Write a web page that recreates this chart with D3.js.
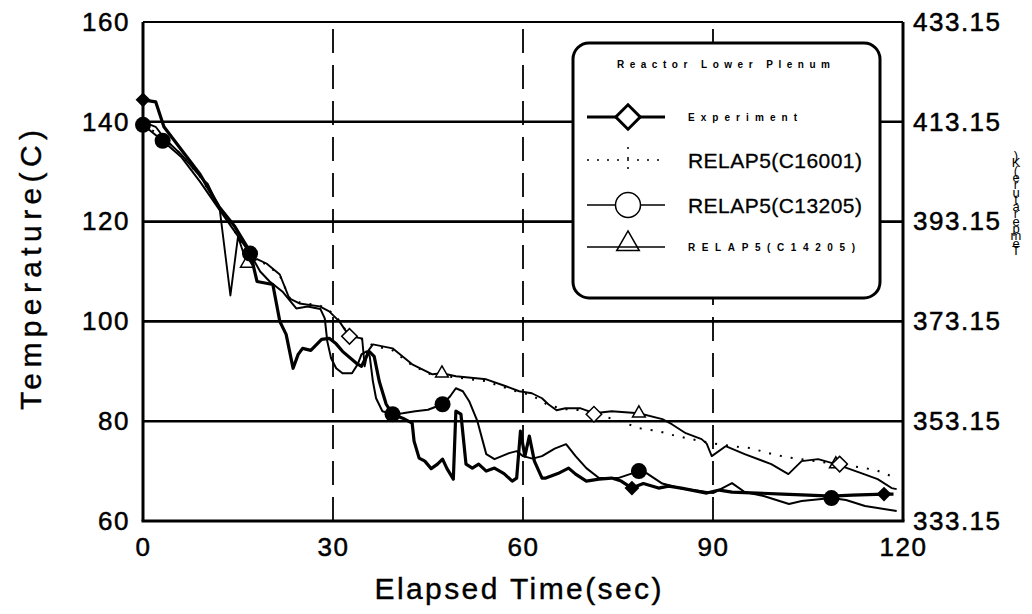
<!DOCTYPE html>
<html>
<head>
  <style>
    body { margin: 0; background: white; }
    svg { display: block; font-family: "Liberation Sans", Arial, sans-serif; }
  </style>
</head>
<body>
  <div id="chart"></div>
  <script src="https://cdnjs.cloudflare.com/ajax/libs/d3/7.8.5/d3.min.js"></script>
  <script>
    // time (sec), temperature (C)
    const experiment = [
      [0,144.4],[2,144],[3.3,139],[6,134.5],[9,129.5],[12,123],[14.5,119],[16.9,114],[18,108],
      [20.5,107.4],[21.6,100],[22.6,97.4],[23.7,90.6],[24.5,93.4],[25.2,94.6],[26.5,94.2],[28.2,96.4],
      [29.4,96.6],[30.5,95.5],[31.5,94],[33.7,91.6],[34.5,91],[35.7,94],[36.5,93],[37.3,88],[38.4,83.4],
      [39.4,81.4],[41,80.6],[42.5,79.6],[42.8,76],[43.6,72.6],[44.5,72],[45.5,70.5],[46.5,71.4],
      [47.3,72.4],[48,70.5],[49,68.4],[49.4,82],[50.2,81.4],[51,71.4],[52,70.6],[53,71.4],[54.2,70],
      [55.5,70.6],[57,69.5],[58.3,68],[59,68.6],[59.6,78],[60.3,73],[61,77],[61.8,72],[63,68.6],
      [63.6,68.6],[65.5,69.5],[67.2,70.6],[68.3,69.4],[70,68],[72,68.4],[74,68.6],[75.5,68],[77.2,66.6],
      [79,67.5],[81.4,66.6],[83,67],[85,66.6],[89,65.6],[91,66.2],[93,65.8],[97,65.6],[101,65.4],
      [105,65.2],[108.7,65],[112,65.2],[117,65.4],[118.5,65.4]
    ];
    const c16001 = [
      [0,139.5],[3,137],[6,133.5],[9,129],[12,123],[15,117],[16.9,113],[19.5,111.4],[21.6,109.2],
      [23.1,104.8],[24.7,103.8],[27.9,103.2],[29.4,102.2],[31,100.2],[32.6,97],[34.6,96.4],[36.3,95.2],
      [39.4,94.2],[42.5,91.2],[45.7,89.2],[49.4,88.8],[54.2,88],[56,87.2],[59.4,85.8],[61.4,85.2],
      [64,83.2],[66.7,82.4],[69,82.2],[71.2,81.4],[75,80.2],[78.3,78.6],[81.4,78],[84.3,77],[89.8,75.6],
      [93,75],[96,74.6],[98.7,73.6],[101.6,72.8],[106,72],[110,71.4],[113,70.8],[115.7,70.2],[119,68.6]
    ];
    const c13205 = [
      [0,139.4],[3.1,136.2],[6,133],[9,128],[12,122.5],[14.5,118],[16.9,113.6],[18.5,110],[20,108],
      [22,106],[24.2,102.6],[26,103],[28,102.5],[28.7,100.6],[29.1,96],[29.7,92.6],[30.5,90.6],
      [31.5,89.6],[33,89.6],[33.9,91.4],[34.5,93.4],[35.3,94],[35.8,93],[36.3,88],[36.8,84.6],
      [37.8,82],[39.4,81.4],[41,81.6],[43,82],[45,82.3],[47.3,83.4],[48.5,85],[49.4,86.6],[50.5,86],
      [51.5,84],[52.8,80],[54.2,73.4],[55.5,72.4],[57.8,73.6],[59,74],[60,73],[61.5,72.5],[63,73],
      [65,74.5],[66.8,75.4],[68.3,73],[70,70.6],[72,68.6],[75,68.6],[78.3,70],[79.5,69.6],[82,67.5],
      [85,66.5],[88,66],[90,65.6],[93,67.6],[95,65.8],[98,65],[102,63.4],[104,64],[108.7,64.6],
      [111,64.2],[114,63],[116,62.6],[119,62]
    ];
    const c14205 = [
      [0,140],[2,139],[3.5,136.5],[6,133.5],[9.3,128.6],[10.2,127.6],[12.1,122.6],[13.8,105.2],
      [15,117],[16.4,111.6],[18,112.5],[19.5,111.6],[21.6,109.4],[23.1,104.6],[24.7,103.6],[27.9,103],
      [29.4,102],[31,100],[32.6,97],[34.6,96.6],[35,91],[35.5,94],[36.3,95.4],[39.4,94.6],[42.5,91.4],
      [45.7,89.4],[47.2,89.6],[49.4,89],[54.2,88.4],[57.3,87],[59.4,86],[61.4,85.6],[63,84.6],
      [64,83.4],[65.3,82.2],[66.7,82.6],[69,82.6],[71.2,81.6],[74,82],[78.3,81.6],[82,80.4],[83.5,79.4],
      [85.7,77.6],[88.2,76.4],[89,75.5],[89.8,73],[92,75],[95,73.4],[99.2,71.4],[101.9,69.4],[104,72],
      [106.6,72.4],[109.4,71.4],[113.4,69.6],[116,68.4],[118.2,66.6],[119,66.4]
    ];

    // times at which the symbols sit on each curve
    const markExperiment = [0, 77.2, 117];
    const markC16001 = [32.6, 71.2, 110];
    const markC13205 = [0, 3.1, 16.9, 39.4, 47.3, 78.3, 108.7];
    const markC14205 = [16.4, 47.2, 78.3, 109.4];

    const xTicks = [0, 30, 60, 90, 120];
    const yTicks = [60, 80, 100, 120, 140, 160];
    const kTicks = [333.15, 353.15, 373.15, 393.15, 413.15, 433.15];
    const legendTitle = "Reactor Lower Plenum";
    const legendLabels = ["Experiment", "RELAP5(C16001)", "RELAP5(C13205)", "RELAP5(C14205)"];

    const width = 1032, height = 614;
    const pLeft = 143, pRight = 903, pTop = 22, pBottom = 521;

    const svg = d3.select("#chart").append("svg")
      .attr("width", width)
      .attr("height", height);

    const x = d3.scaleLinear().domain([0, 120]).range([pLeft, pRight]);
    const y = d3.scaleLinear().domain([60, 160]).range([pBottom, pTop]);
    const yK = d3.scaleLinear().domain([333.15, 433.15]).range([pBottom, pTop]);

    // horizontal grid
    svg.append("g").selectAll("line")
      .data(yTicks.slice(1, -1))
      .join("line")
      .attr("x1", pLeft).attr("x2", pRight)
      .attr("y1", d => y(d)).attr("y2", d => y(d))
      .attr("stroke", "#000").attr("stroke-width", 2.6);

    // vertical dashed grid, drawn from the bottom up
    svg.append("g").selectAll("line")
      .data(xTicks.slice(1, -1))
      .join("line")
      .attr("x1", d => x(d)).attr("x2", d => x(d))
      .attr("y1", pBottom).attr("y2", pTop)
      .attr("stroke", "#000").attr("stroke-width", 1.8)
      .attr("stroke-dasharray", "24,12");

    // frame
    svg.append("line").attr("x1", pLeft).attr("x2", pRight).attr("y1", pTop).attr("y2", pTop)
      .attr("stroke", "#000").attr("stroke-width", 2);
    svg.append("line").attr("x1", pLeft - 1.5).attr("x2", pRight + 1.5).attr("y1", pBottom).attr("y2", pBottom)
      .attr("stroke", "#000").attr("stroke-width", 3);
    svg.append("line").attr("x1", pLeft).attr("x2", pLeft).attr("y1", pTop).attr("y2", pBottom)
      .attr("stroke", "#000").attr("stroke-width", 3);
    svg.append("line").attr("x1", pRight).attr("x2", pRight).attr("y1", pTop).attr("y2", pBottom)
      .attr("stroke", "#000").attr("stroke-width", 3);

    // axes (labels only)
    function styleAxis(g) {
      g.select(".domain").remove();
      g.selectAll("text")
        .attr("font-family", "\"Liberation Sans\", Arial, sans-serif")
        .attr("font-size", 26)
        .attr("letter-spacing", 1.5)
        .attr("fill", "#000")
        .attr("stroke", "#000").attr("stroke-width", 0.5);
    }
    svg.append("g").attr("transform", `translate(${pLeft},0)`)
      .call(d3.axisLeft(y).tickValues(yTicks).tickSize(0).tickPadding(13))
      .call(styleAxis);
    svg.append("g").attr("transform", `translate(${pRight},0)`)
      .call(d3.axisRight(yK).tickValues(kTicks).tickFormat(d3.format(".2f")).tickSize(0).tickPadding(10))
      .call(styleAxis);
    svg.append("g").attr("transform", `translate(0,${pBottom})`)
      .call(d3.axisBottom(x).tickValues(xTicks).tickSize(0).tickPadding(17))
      .call(styleAxis);

    svg.append("text")
      .attr("x", (pLeft + pRight) / 2 - 5).attr("y", 599)
      .attr("text-anchor", "middle")
      .attr("font-size", 30)
      .attr("stroke", "#000").attr("stroke-width", 0.4)
      .attr("textLength", 287).attr("lengthAdjust", "spacing")
      .text("Elapsed Time(sec)");

    svg.append("text")
      .attr("transform", "translate(41,270) rotate(-90)")
      .attr("text-anchor", "middle")
      .attr("font-size", 30)
      .attr("stroke", "#000").attr("stroke-width", 0.4)
      .attr("textLength", 280).attr("lengthAdjust", "spacing")
      .text("Temperature(C)");

    // right-hand title, characters stacked upright and reversed as in the scan
    svg.append("text")
      .attr("x", 1016).attr("y", 148)
      .style("writing-mode", "vertical-rl")
      .style("text-orientation", "upright")
      .attr("font-size", 13)
      .attr("textLength", 110).attr("lengthAdjust", "spacing")
      .text(Array.from("Temperature(K)").reverse().join(""));

    // curves
    const line = d3.line().x(d => x(d[0])).y(d => y(d[1]));
    const plot = svg.append("g");

    plot.append("path").datum(c16001).attr("d", line)
      .attr("fill", "none").attr("stroke", "#000").attr("stroke-width", 2)
      .attr("stroke-dasharray", "2,9");
    plot.append("path").datum(c14205).attr("d", line)
      .attr("fill", "none").attr("stroke", "#000").attr("stroke-width", 1.9)
      .attr("stroke-linejoin", "round");
    plot.append("path").datum(c13205).attr("d", line)
      .attr("fill", "none").attr("stroke", "#000").attr("stroke-width", 2)
      .attr("stroke-linejoin", "round");
    plot.append("path").datum(experiment).attr("d", line)
      .attr("fill", "none").attr("stroke", "#000").attr("stroke-width", 3.2)
      .attr("stroke-linejoin", "round");

    const pick = (series, times) => times.map(t => series.find(p => p[0] === t));

    plot.append("g").selectAll("path")
      .data(pick(c14205, markC14205))
      .join("path")
      .attr("transform", d => `translate(${x(d[0])},${y(d[1])})`)
      .attr("d", d3.symbol().type(d3.symbolTriangle).size(70))
      .attr("fill", "#fff").attr("stroke", "#000").attr("stroke-width", 1.5);

    plot.append("g").selectAll("path")
      .data(pick(c16001, markC16001))
      .join("path")
      .attr("transform", d => `translate(${x(d[0])},${y(d[1])}) rotate(45)`)
      .attr("d", d3.symbol().type(d3.symbolSquare).size(120))
      .attr("fill", "#fff").attr("stroke", "#000").attr("stroke-width", 1.5);

    plot.append("g").selectAll("circle")
      .data(pick(c13205, markC13205))
      .join("circle")
      .attr("cx", d => x(d[0])).attr("cy", d => y(d[1]))
      .attr("r", 8).attr("fill", "#000");

    plot.append("g").selectAll("path")
      .data(pick(experiment, markExperiment))
      .join("path")
      .attr("transform", d => `translate(${x(d[0])},${y(d[1])}) rotate(45)`)
      .attr("d", d3.symbol().type(d3.symbolSquare).size(110))
      .attr("fill", "#000");

    // legend
    const lg = svg.append("g");
    lg.append("rect")
      .attr("x", 573).attr("y", 43).attr("width", 307).attr("height", 255)
      .attr("rx", 16)
      .attr("fill", "#fff").attr("stroke", "#000").attr("stroke-width", 3);
    lg.append("text")
      .attr("x", 617).attr("y", 68)
      .attr("font-size", 10).attr("font-weight", "bold")
      .attr("textLength", 213).attr("lengthAdjust", "spacing")
      .text(legendTitle);

    const rowY = [117, 160, 205, 247];
    const sx1 = 587, sx2 = 665, sc = 628, tx = 688;

    // Experiment
    lg.append("line").attr("x1", sx1).attr("x2", sx2).attr("y1", rowY[0]).attr("y2", rowY[0])
      .attr("stroke", "#000").attr("stroke-width", 3);
    lg.append("path").attr("transform", `translate(${sc},${rowY[0]}) rotate(45)`)
      .attr("d", d3.symbol().type(d3.symbolSquare).size(300))
      .attr("fill", "#fff").attr("stroke", "#000").attr("stroke-width", 3);
    // C16001
    lg.append("line").attr("x1", sx1).attr("x2", sx2).attr("y1", rowY[1]).attr("y2", rowY[1])
      .attr("stroke", "#000").attr("stroke-width", 1.5).attr("stroke-dasharray", "2,8");
    lg.append("line").attr("x1", sc).attr("x2", sc).attr("y1", rowY[1] - 13).attr("y2", rowY[1] + 13)
      .attr("stroke", "#000").attr("stroke-width", 1.5).attr("stroke-dasharray", "2,8");
    // C13205
    lg.append("line").attr("x1", sx1).attr("x2", sx2).attr("y1", rowY[2]).attr("y2", rowY[2])
      .attr("stroke", "#000").attr("stroke-width", 1.5);
    lg.append("circle").attr("cx", sc).attr("cy", rowY[2]).attr("r", 12.5)
      .attr("fill", "#fff").attr("stroke", "#000").attr("stroke-width", 1.5);
    // C14205
    lg.append("line").attr("x1", sx1).attr("x2", sx2).attr("y1", rowY[3]).attr("y2", rowY[3])
      .attr("stroke", "#000").attr("stroke-width", 1.5);
    lg.append("path").attr("transform", `translate(${sc},${rowY[3] - 3})`)
      .attr("d", d3.symbol().type(d3.symbolTriangle).size(220))
      .attr("fill", "none").attr("stroke", "#000").attr("stroke-width", 1.5);

    lg.append("text").attr("x", tx).attr("y", rowY[0] + 4)
      .attr("font-size", 10).attr("font-weight", "bold")
      .attr("textLength", 109).attr("lengthAdjust", "spacing")
      .text(legendLabels[0]);
    lg.append("text").attr("x", tx).attr("y", rowY[1] + 8)
      .attr("font-size", 21)
      .attr("stroke", "#000").attr("stroke-width", 0.3)
      .attr("textLength", 174).attr("lengthAdjust", "spacing")
      .text(legendLabels[1]);
    lg.append("text").attr("x", tx).attr("y", rowY[2] + 8)
      .attr("font-size", 21)
      .attr("stroke", "#000").attr("stroke-width", 0.3)
      .attr("textLength", 174).attr("lengthAdjust", "spacing")
      .text(legendLabels[2]);
    lg.append("text").attr("x", tx).attr("y", rowY[3] + 4)
      .attr("font-size", 10).attr("font-weight", "bold")
      .attr("textLength", 167).attr("lengthAdjust", "spacing")
      .text(legendLabels[3]);
  </script>
</body>
</html>
